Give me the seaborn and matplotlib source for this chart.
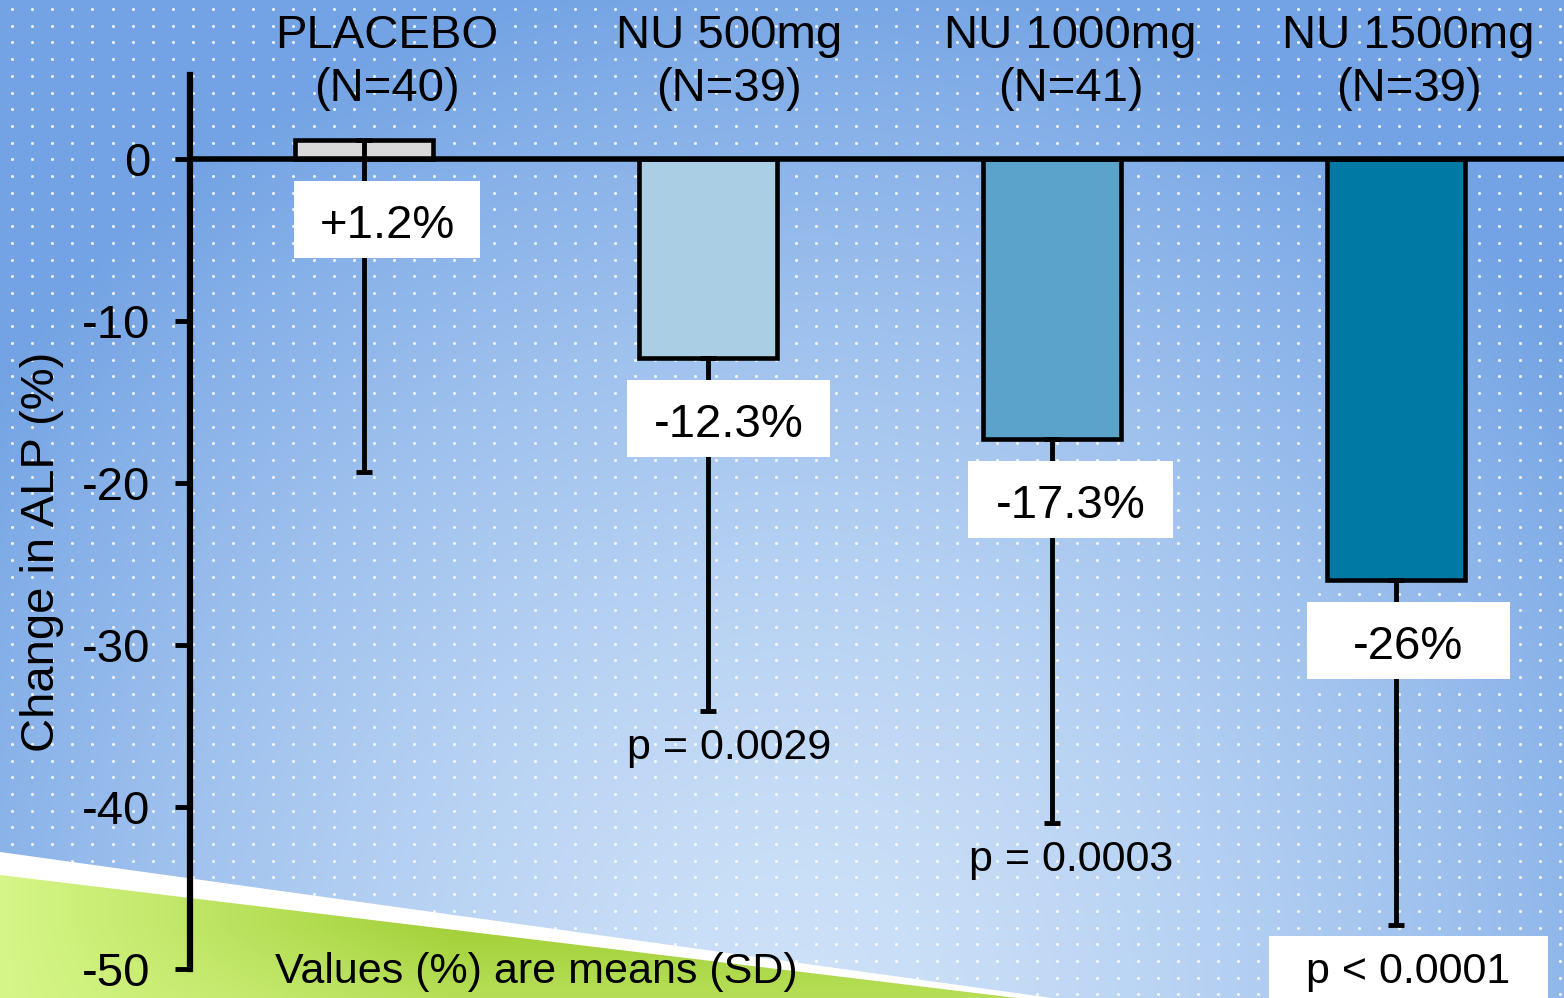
import numpy as np
import pandas as pd
import matplotlib
matplotlib.use("Agg")
import matplotlib.pyplot as plt
from matplotlib.patches import Polygon, Rectangle
import seaborn as sns

# ---- data -------------------------------------------------------------
groups = ["PLACEBO", "NU 500mg", "NU 1000mg", "NU 1500mg"]
group_n = [40, 39, 41, 39]
mean_change = [1.2, -12.3, -17.3, -26.0]
sd_change = [20.5, 21.8, 23.7, 21.3]
value_labels = ["+1.2%", "-12.3%", "-17.3%", "-26%"]
p_labels = ["", "p = 0.0029", "p = 0.0003", "p < 0.0001"]
y_ticks = [0, -10, -20, -30, -40, -50]

# ---- style ------------------------------------------------------------
bar_colors = ["#d9d9d9", "#aacee4", "#5ba3cb", "#007aa5"]
label_shift = [0.067, 0.060, 0.054, 0.036]   # text columns sit a bit right of the bars
box_width = [0.54, 0.59, 0.595, 0.59]
p_boxed = [False, False, False, True]

W, H, DPI = 1564, 998, 100

sns.set_theme(style="white")
plt.rcParams["font.family"] = ["Liberation Sans", "DejaVu Sans"]
plt.rcParams["axes.unicode_minus"] = False
plt.rcParams["text.color"] = "black"
plt.rcParams["axes.labelcolor"] = "black"

fig = plt.figure(figsize=(W / DPI, H / DPI), dpi=DPI)

# ---- slide background: blue radial gradient, dot texture, green wedge --
bg = fig.add_axes([0, 0, 1, 1], zorder=0)
yy, xx = np.mgrid[0:H:2, 0:W:2].astype(float)
d = np.sqrt(((xx - 800) / 1000) ** 2 + ((yy - 1000) / 1050) ** 2)
t = np.clip(d, 0, 1) ** 1.5
light = np.array([205, 225, 248]) / 255
dark = np.array([115, 163, 228]) / 255
blue_img = light + (dark - light) * t[..., None]
bg.imshow(blue_img, extent=(0, W, H, 0), aspect="auto",
          interpolation="bilinear", zorder=0)

gx, gy = np.meshgrid(np.arange(12, W, 20.1), np.arange(9, H, 16.7))
bg.scatter(gx.ravel(), gy.ravel(), s=5, c="white", alpha=0.85,
           linewidths=0, zorder=1)

band = Polygon([(0, 852), (1052, H), (0, H)], closed=True,
               fc="white", ec="none", zorder=2)
bg.add_patch(band)
wedge = Polygon([(0, 875), (1017, H), (0, H)], closed=True,
                fc="none", ec="none", zorder=3)
bg.add_patch(wedge)
g_light = np.array([214, 246, 136]) / 255
g_dark = np.array([162, 208, 56]) / 255
tg = np.clip(xx / 450, 0, 1) * (1 - 0.4 * np.clip((yy - 925) / 73, 0, 1))
green_img = g_light + (g_dark - g_light) * tg[..., None]
gim = bg.imshow(green_img, extent=(0, W, H, 0), aspect="auto",
                interpolation="bilinear", zorder=3)
gim.set_clip_path(wedge)
bg.set_xlim(0, W)
bg.set_ylim(H, 0)
bg.axis("off")

# ---- chart ------------------------------------------------------------
ax = fig.add_axes([190 / W, 29 / H, 1 - 190 / W, (969 - 75) / H], zorder=1)
ax.patch.set_visible(False)

df = pd.DataFrame({"group": groups, "change": mean_change})
sns.barplot(data=df, x="group", y="change", hue="group", order=groups,
            hue_order=groups, palette=bar_colors, saturation=1, width=0.4,
            edgecolor="black", linewidth=3.3, errorbar=None, legend=False,
            ax=ax, zorder=2)

xpos = np.arange(len(groups))
sd = np.array(sd_change)
ax.errorbar(xpos, mean_change, yerr=[sd, np.zeros_like(sd)], fmt="none",
            ecolor="black", elinewidth=3.5, capsize=6, capthick=3.5, zorder=3)
ax.axhline(0, color="black", lw=4, zorder=4)

ax.set_xlim(-0.5058, 3.488)
ax.set_ylim(-50, 5.2)
ax.set_yticks(y_ticks)
ax.set_yticklabels([str(v) for v in y_ticks])
ax.tick_params(axis="y", left=True, length=10.8, width=3.5, pad=18,
               labelsize=34, direction="out", colors="black")
ax.tick_params(axis="x", bottom=False, labelbottom=False)
ax.set_xlabel("")
for side in ["top", "right", "bottom"]:
    ax.spines[side].set_visible(False)
ax.spines["left"].set_linewidth(4.5)
ax.spines["left"].set_color("black")

ax.set_ylabel("Change in ALP (%)", fontsize=34, color="black")
ax.yaxis.label.set_verticalalignment("center")
ax.yaxis.set_label_coords((42 - 190) / 1374, (969 - 552) / 894)

box_h = 4.75
for i, (g, n, m, s) in enumerate(zip(groups, group_n, mean_change, sd_change)):
    cx = i + label_shift[i]
    # group header above the plot
    ax.text(cx, 5.95, f"{g}\n(N={n})", ha="center", va="center",
            fontsize=34, linespacing=1.27, clip_on=False, zorder=6)
    # value label in a white box just below the bar
    yc = min(m, 0) - 3.7
    ax.add_patch(Rectangle((cx - box_width[i] / 2, yc - box_h / 2),
                           box_width[i], box_h, fc="white", ec="none",
                           zorder=5, clip_on=False))
    ax.text(cx, yc - 0.4, value_labels[i], ha="center", va="center",
            fontsize=34, zorder=6, clip_on=False)
    # p-value under the error bar
    if p_labels[i]:
        end = m - s
        if p_boxed[i]:
            top = end - 0.66
            ax.add_patch(Rectangle((cx - 0.405, top - 8), 0.81, 8,
                                   fc="white", ec="none", zorder=5,
                                   clip_on=False))
            py = end - 2.9
        else:
            py = end - 2.25
        ax.text(cx, py, p_labels[i], ha="center", va="center",
                fontsize=31, zorder=6, clip_on=False)

fig.text(275 / W, 1 - 972 / H, "Values (%) are means (SD)", ha="left",
         va="center", fontsize=31, color="black", zorder=10)

fig.savefig("out.png", dpi=DPI)
